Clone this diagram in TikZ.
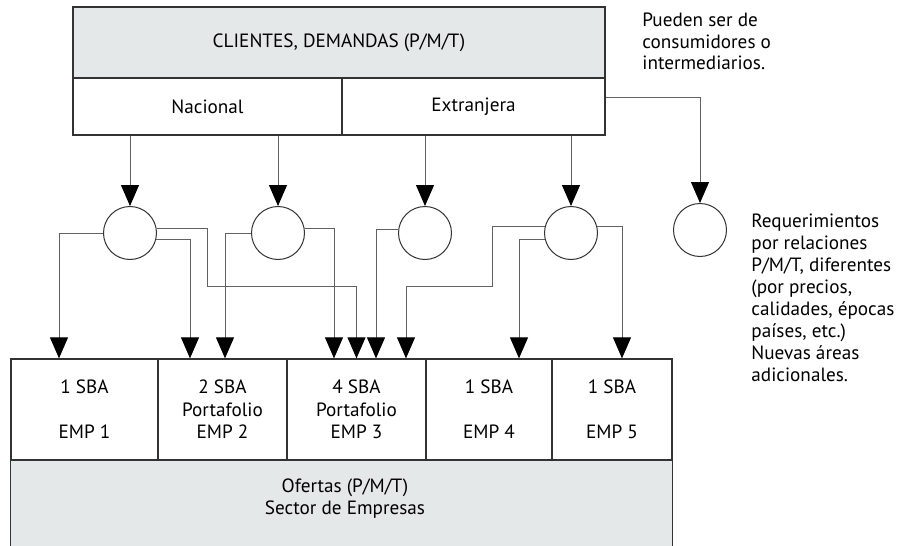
\documentclass[tikz,border=0pt]{standalone}
\usepackage{fontspec}
\setmainfont{PT Sans}
\usepackage{tikz}
\usetikzlibrary{shapes,arrows.meta,calc}
\definecolor{boxgray}{rgb}{0.90,0.91,0.91}
\definecolor{linegray}{rgb}{0.38,0.38,0.38}
\definecolor{boxline}{rgb}{0.20,0.20,0.20}
\tikzstyle{headbox}=[rectangle, draw=boxline, fill=boxgray, line width=0.65pt, inner sep=0pt, minimum width=266pt, minimum height=35.5pt]
\tikzstyle{zonebox}=[rectangle, draw=boxline, fill=white, line width=0.65pt, inner sep=0pt, minimum height=28.5pt]
\tikzstyle{empbox}=[rectangle, draw=boxline, fill=white, line width=0.65pt, inner sep=0pt, minimum height=50.5pt, align=center]
\tikzstyle{reqcircle}=[circle, draw=boxline, line width=0.5pt, inner sep=0pt, minimum size=26.5pt]
\tikzstyle{conn}=[draw=linegray, line width=0.5pt, -{Triangle[width=9pt,length=10.5pt,color=black]}]
\tikzstyle{note}=[anchor=north west, align=left, inner sep=0pt]
\newcommand{\empbox}[4]{
	\node[empbox, minimum width=#3] (#1) at (#2) {#4};}
\newcommand{\reqcircle}[2]{
	\node[reqcircle] (#1) at (#2) {};}

\begin{document}
\begin{tikzpicture}[x=0.5pt,y=-0.5pt,font=\fontsize{9.6}{11.25}\selectfont]
\useasboundingbox (0,0) rectangle (901,546);

% demandas
\node[headbox] (clientes) at (339,42.5) {CLIENTES, DEMANDAS (P/M/T)};
\node[zonebox, minimum width=134.5pt] (nacional) at (207.5,106.5) {Nacional};
\node[zonebox, minimum width=131.5pt] (extranjera) at (473.5,106.5) {Extranjera};
\node[note, font=\fontsize{9.6}{10.6}\selectfont] (pueden) at (642,13) {Pueden ser de\\consumidores o\\intermediarios.};

% requerimientos
\reqcircle{c1}{130,233}
\reqcircle{c2}{278,233}
\reqcircle{c3}{425,233}
\reqcircle{c4}{571,233}
\reqcircle{c5}{700,230}
\node[note, font=\fontsize{9.6}{11}\selectfont] (nuevas) at (751,214) {Requerimientos\\por relaciones\\P/M/T, diferentes\\(por precios,\\calidades, épocas\\países, etc.)\\Nuevas áreas\\adicionales.};

% ofertas
\node[rectangle, fill=boxgray, inner sep=0pt, minimum width=330.5pt, minimum height=43pt] (ofertas) at (341.5,503) {};
\node[align=center] (K) at (345,498.5) {Ofertas (P/M/T)\\Sector de Empresas};
\draw[boxline, line width=0.65pt] (ofertas.north west) -- (ofertas.south west) (ofertas.north east) -- (ofertas.south east);
\empbox{emp1}{84.5,409.5}{73.5pt}{1 SBA\\[11.25pt]EMP 1}
\empbox{emp2}{222.5,409.5}{64.5pt}{2 SBA\\Portafolio\\EMP 2}
\empbox{emp3}{356.5,409.5}{69.5pt}{4 SBA\\Portafolio\\EMP 3}
\empbox{emp4}{489,409.5}{63pt}{1 SBA\\[11.25pt]EMP 4}
\empbox{emp5}{612,409.5}{60pt}{1 SBA\\[11.25pt]EMP 5}

% demandas -> requerimientos
\draw[conn] (nacional.south -| c1.north) -- (c1.north);
\draw[conn] (nacional.south -| c2.north) -- (c2.north);
\draw[conn] (extranjera.south -| c3.north) -- (c3.north);
\draw[conn] (extranjera.south -| c4.north) -- (c4.north);
\draw[conn] ($(extranjera.east)+(0,-9.5)$) -| (c5.north);

% requerimientos -> empresas
\draw[conn] (c1.west) -| ($(emp1.north)+(-25.5,0)$);
\draw[conn] (c1.9) -| (207,286) -| (emp3.north);
\draw[conn] (c1.-13) -| ($(emp2.north)+(-32.5,0)$);
\draw[conn] (c2.west) -| ($(emp2.north)+(2.5,0)$);
\draw[conn] (c2.9) -| ($(emp3.north)+(-22.5,0)$);
\draw[conn] (c3.173) -| ($(emp3.north)+(19.5,0)$);
\draw[conn] (c4.167) -| (492,286) -| ($(emp3.north)+(49.5,0)$);
\draw[conn] (c4.193) -| ($(emp4.north)+(30,0)$);
\draw[conn] (c4.13) -| ($(emp5.north)+(10,0)$);
\end{tikzpicture}
\end{document}
